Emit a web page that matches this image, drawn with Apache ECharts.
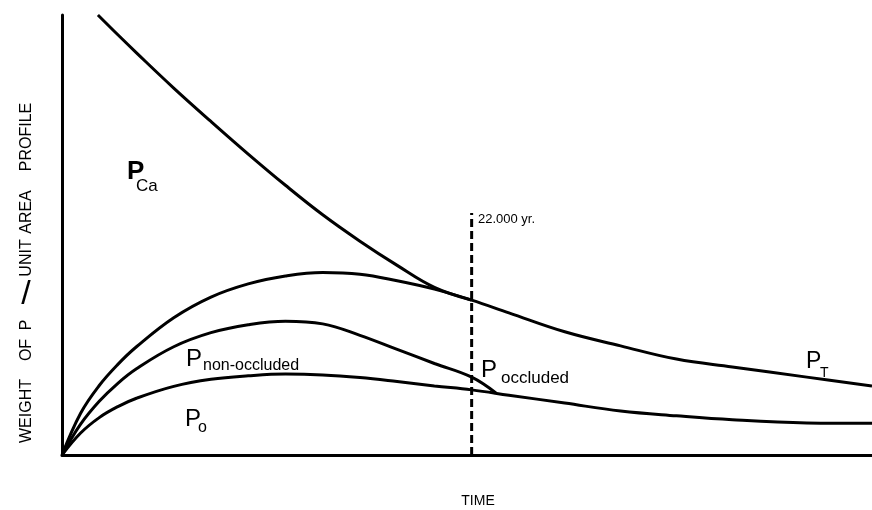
<!DOCTYPE html>
<html>
<head>
<meta charset="utf-8">
<script src="https://cdn.jsdelivr.net/npm/echarts@6/dist/echarts.min.js"></script>
<style>
html,body{margin:0;padding:0;background:#fff;}
#chart{width:872px;height:510px;}
</style>
</head>
<body>
<div id="chart"></div>
<script>
// Time axis (thousands of years, schematic)
const time = [0, 1, 2, 3, 4, 6, 8, 10, 12, 14, 16, 18, 20, 22, 24, 27, 30, 33, 36, 40, 43.5];
// P total (upper envelope, continues as P_T)
const pTotal = [0, 9.5, 15.8, 20.6, 24.6, 31.2, 35.9, 38.9, 40.7, 41.5, 41.1, 39.6, 37.7, 35.2, 32.3, 28.0, 24.8, 21.8, 20.0, 17.7, 15.7];
// P_o + P_non-occluded boundary
const nonOccTime = [0, 1, 2, 3, 4, 6, 8, 10, 12, 14, 16, 18, 20, 22, 23.3];
const pNonOcc = [0, 7.0, 12.2, 16.3, 19.6, 24.6, 27.8, 29.6, 30.4, 29.8, 27.2, 24.0, 20.8, 17.7, 14.1];
// P_o (lowest curve)
const pO = [0, 5.0, 8.5, 11.0, 12.9, 15.6, 17.2, 18.0, 18.4, 18.2, 17.6, 16.7, 15.7, 14.8, 13.6, 11.8, 10.0, 8.9, 8.0, 7.3, 7.2];
// P_Ca (decreasing curve)
const caTime = [1.93, 3, 4, 6, 8, 10, 12, 14, 16, 18, 20, 22];
const pCa = [100, 95.5, 91.4, 83.4, 75.8, 68.4, 61.3, 54.6, 48.6, 43.1, 38.1, 35.2];
// 22,000 yr marker
const markerTime = [22, 22];
const markerLevel = [0, 55];

const F = "'Liberation Sans', Arial, sans-serif";
const zip = (xs, ys) => xs.map((x, i) => [x, ys[i]]);

const lineBase = {
  type: 'line', showSymbol: false, symbol: 'none', smooth: 0.4,
  lineStyle: { color: '#000', width: 3 }, silent: true, animation: false
};

function txt(text, x, y, size, opts) {
  opts = opts || {};
  return {
    type: 'text', x: x, y: y, rotation: opts.rot || 0, z: 10,
    style: {
      text: text, fontSize: size, fontFamily: F, fontWeight: opts.weight || 'normal', fill: '#000',
      align: opts.align || 'left', verticalAlign: 'middle',
      textAlign: opts.align || 'left', textVerticalAlign: 'middle'
    }
  };
}

const chart = echarts.init(document.getElementById('chart'), null, { renderer: 'canvas' });
chart.setOption({
  backgroundColor: '#fff',
  animation: false,
  grid: { left: 62, top: 15, right: 0, bottom: 55, containLabel: false },
  xAxis: {
    type: 'value', min: 0, max: 43.5,
    axisLine: { show: true, onZero: false, lineStyle: { color: '#000', width: 3 } },
    axisTick: { show: false }, axisLabel: { show: false }, splitLine: { show: false }
  },
  yAxis: {
    type: 'value', min: 0, max: 100,
    axisLine: { show: true, onZero: false, lineStyle: { color: '#000', width: 3 } },
    axisTick: { show: false }, axisLabel: { show: false }, splitLine: { show: false }
  },
  series: [
    Object.assign({}, lineBase, { name: 'P_T', data: zip(time, pTotal) }),
    Object.assign({}, lineBase, { name: 'P_non-occluded', data: zip(nonOccTime, pNonOcc) }),
    Object.assign({}, lineBase, { name: 'P_o', data: zip(time, pO) }),
    Object.assign({}, lineBase, { name: 'P_Ca', data: zip(caTime, pCa) }),
    {
      type: 'line', name: '22.000 yr.', showSymbol: false, symbol: 'none', silent: true,
      data: zip(markerTime, markerLevel), z: 5,
      lineStyle: { color: '#000', width: 3, type: [8, 4] }
    }
  ],
  graphic: [
    txt('P', 127, 172, 26, { weight: 'bold' }),
    txt('Ca', 136, 186, 17),
    txt('P', 186, 359, 24),
    txt('non-occluded', 203, 366, 16),
    txt('P', 185, 419, 24),
    txt('o', 198, 428, 16),
    txt('P', 481, 370, 24),
    txt('occluded', 501, 378, 17),
    txt('P', 806, 362, 23),
    txt('T', 820, 373, 14),
    txt('22.000 yr.', 478, 219, 13),
    txt('TIME', 478, 501, 14, { align: 'center' }),
    txt('WEIGHT', 27, 411, 16, { align: 'center', rot: Math.PI / 2 }),
    txt('OF', 27, 350, 16, { align: 'center', rot: Math.PI / 2 }),
    txt('P', 27, 325, 16, { align: 'center', rot: Math.PI / 2 }),
    txt('/', 26, 295, 34, { align: 'center' }),
    txt('UNIT', 27, 258, 16, { align: 'center', rot: Math.PI / 2 }),
    txt('AREA', 27, 212, 16, { align: 'center', rot: Math.PI / 2 }),
    txt('PROFILE', 27, 137, 16, { align: 'center', rot: Math.PI / 2 })
  ]
});
</script>
</body>
</html>
